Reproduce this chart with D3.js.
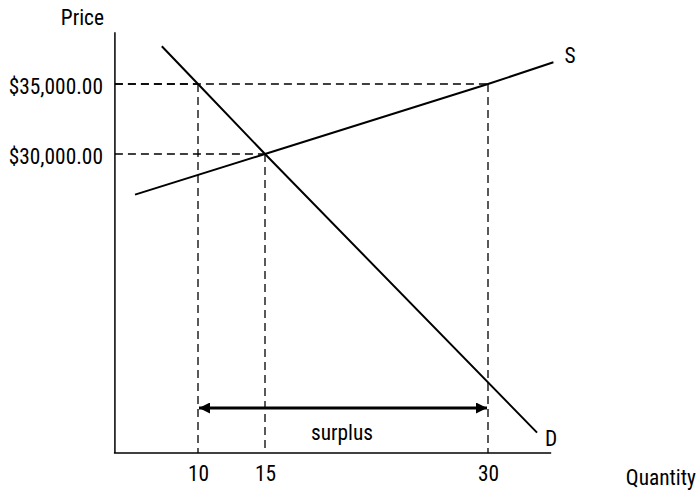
<!DOCTYPE html>
<meta charset="utf-8">
<style>
    body { margin: 0; background: #fff; }
    svg { display: block; }
    text {
        font-family: "Roboto Condensed", Roboto, sans-serif;
        font-stretch: condensed;
        font-size: 23px;
        fill: #000;
        transform-box: fill-box;
        transform: scaleX(0.93);
    }
    .curve { stroke: #000; stroke-width: 2; fill: none; }
    .guide { stroke: #000; stroke-width: 1.3; stroke-dasharray: 8,5; fill: none; }
    .axisline { stroke: #000; stroke-width: 1.5; }
</style>
<script src="https://cdn.jsdelivr.net/npm/d3@7"></script>
<body>
<svg></svg>
</body>
<script>

    // values
    var qTicks = [10, 15, 30];
    var priceTicks = [30000, 35000];
    var supply = [
        {q: 5.3, p: 27100},
        {q: 15, p: 30000},
        {q: 30, p: 35000},
        {q: 34.4, p: 36550}
    ];
    var demand = [
        {q: 7.3, p: 37700},
        {q: 10, p: 35000},
        {q: 15, p: 30000},
        {q: 33.3, p: 10100}
    ];
    // points marked with dashed guides: [quantity, price]
    var marks = [
        [10, 35000],
        [15, 30000],
        [30, 35000]
    ];
    var surplus = [10, 30];
    var qExtent = [3.8, 34.25];
    var pExtent = [8650, 38700];

    var width = 700, height = 490;
    var svg = d3.select('svg').attr('width', width).attr('height', height);

    var x = d3.scaleLinear().domain(qTicks).range([198, 265, 488]);
    var y = d3.scaleLinear().domain(priceTicks).range([154, 84]);

    var money = d3.format("$,.2f");

    // dashed guides
    marks.forEach(function (m) {
        svg.append('line').attr('class', 'guide')
            .attr('x1', x(qExtent[0])).attr('x2', x(m[0]))
            .attr('y1', y(m[1])).attr('y2', y(m[1]));
        svg.append('line').attr('class', 'guide')
            .attr('x1', x(m[0])).attr('x2', x(m[0]))
            .attr('y1', y(m[1])).attr('y2', y(pExtent[0]));
    });

    // axes
    svg.append('line').attr('class', 'axisline')
        .attr('x1', x(qExtent[0])).attr('x2', x(qExtent[0]))
        .attr('y1', y(pExtent[1])).attr('y2', y(pExtent[0]));
    svg.append('line').attr('class', 'axisline')
        .attr('x1', x(qExtent[0]) - 1).attr('x2', x(qExtent[1]))
        .attr('y1', y(pExtent[0])).attr('y2', y(pExtent[0]));

    var xAxis = svg.append('g')
        .attr('transform', 'translate(0,' + y(pExtent[0]) + ')')
        .call(d3.axisBottom(x).tickValues(qTicks).tickSize(0).tickPadding(12).tickFormat(d3.format('d')));
    xAxis.select('.domain').remove();
    xAxis.selectAll('text').style('transform-origin', 'center');

    var yAxis = svg.append('g')
        .attr('transform', 'translate(' + (x(qExtent[0]) - 1) + ',2)')
        .call(d3.axisLeft(y).tickValues(priceTicks).tickSize(0).tickPadding(11).tickFormat(money));
    yAxis.select('.domain').remove();
    yAxis.selectAll('text').style('transform-origin', 'right');

    svg.selectAll('g').attr('font-family', null).attr('font-size', null);
    svg.selectAll('.tick text').attr('fill', '#000');

    svg.append('text').attr('x', 104).attr('y', 25).attr('text-anchor', 'end')
        .style('transform-origin', 'right').text('Price');
    svg.append('text').attr('x', 696).attr('y', 485).attr('text-anchor', 'end')
        .style('transform-origin', 'right').text('Quantity');

    // supply & demand
    var line = d3.line().x(function (d) { return x(d.q); }).y(function (d) { return y(d.p); });
    svg.append('path').attr('class', 'curve').attr('d', line(supply));
    svg.append('path').attr('class', 'curve').attr('d', line(demand));

    var sEnd = supply[supply.length - 1], dEnd = demand[demand.length - 1];
    svg.append('text').attr('x', x(sEnd.q) + 11).attr('y', y(sEnd.p) + 1)
        .style('transform-origin', 'left').text('S');
    svg.append('text').attr('x', x(dEnd.q) + 8).attr('y', y(dEnd.p) + 13)
        .style('transform-origin', 'left').text('D');

    // surplus arrow
    var defs = svg.append('defs');
    defs.append('marker').attr('id', 'head')
        .attr('viewBox', '0 0 10 10').attr('refX', 10).attr('refY', 5)
        .attr('markerWidth', 13).attr('markerHeight', 11)
        .attr('markerUnits', 'userSpaceOnUse')
        .attr('orient', 'auto-start-reverse')
        .append('path').attr('d', 'M0,0L10,5L0,10Z').attr('fill', '#000');

    var arrowY = 408;
    svg.append('line')
        .attr('x1', x(surplus[0]) + 1).attr('x2', x(surplus[1]) - 1)
        .attr('y1', arrowY).attr('y2', arrowY)
        .attr('stroke', '#000').attr('stroke-width', 3)
        .attr('marker-start', 'url(#head)').attr('marker-end', 'url(#head)');
    svg.append('text')
        .attr('x', (x(surplus[0]) + x(surplus[1])) / 2 - 1).attr('y', 440)
        .attr('text-anchor', 'middle').style('transform-origin', 'center').text('surplus');

</script>
